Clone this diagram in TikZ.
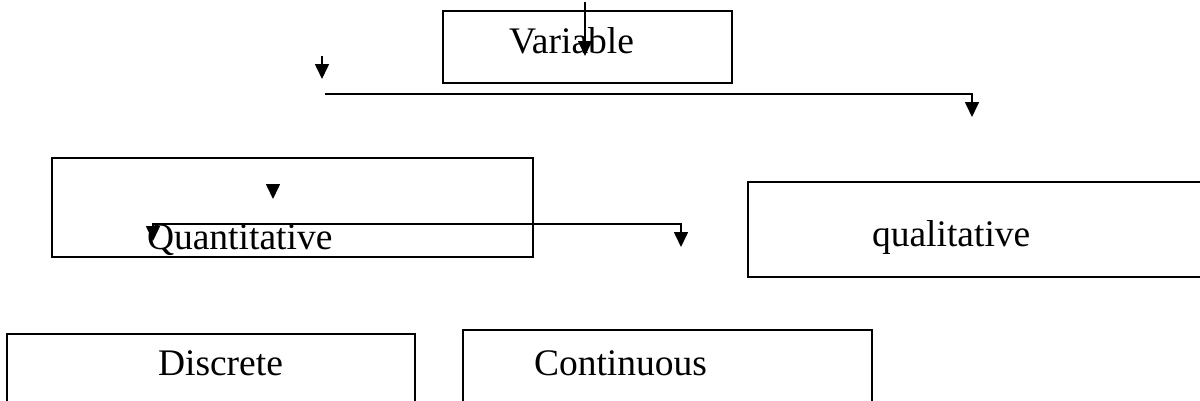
\documentclass[tikz,border=0pt]{standalone}
\usepackage{fontspec}
\setmainfont{Liberation Serif}
\usetikzlibrary{arrows.meta}

\tikzset{
  box/.style={draw=black, line width=1.8pt, rectangle, anchor=north west,
              inner sep=0pt, outer sep=0pt},
  lbl/.style={anchor=base west, inner sep=0pt, outer sep=0pt,
              font=\fontsize{37.5}{45}\selectfont},
  link/.style={line width=1.6pt, draw=black},
  tip/.style={Triangle[width=14pt,length=15pt]},
  arr/.style={link, -{Triangle[width=14pt,length=15pt]}},
  arr2/.style={link, {Triangle[width=14pt,length=15pt]}-{Triangle[width=14pt,length=15pt]}},
}

\begin{document}
\begin{tikzpicture}[x=1pt,y=-1pt]
  \useasboundingbox (0,0) rectangle (1200,400);

  % boxes
  \node[box, minimum width=289pt, minimum height=72pt] (varbox) at (443,11) {};
  \node[box, minimum width=481pt, minimum height=99pt] (quantbox) at (52,158) {};
  \node[box, minimum width=470pt, minimum height=95pt] (qualbox) at (748,182) {};
  \node[box, minimum width=408pt, minimum height=90pt] (discbox) at (7,334) {};
  \node[box, minimum width=409pt, minimum height=94pt] (contbox) at (463,330) {};

  % labels
  \node[lbl] (varlbl)   at (509,53)  {Variable};
  \node[lbl] (quantlbl) at (147,249) {Quantitative};
  \node[lbl] (quallbl)  at (872,246) {qualitative};
  \node[lbl] (disclbl)  at (158,375) {Discrete};
  \node[lbl] (contlbl)  at (534,375) {Continuous};

  % connector end points
  \coordinate (vinA) at (585,2);
  \coordinate (vinB) at (585,56);
  \coordinate (dropA) at (322,56);
  \coordinate (dropB) at (322,79);
  \coordinate (splitL) at (325,94);
  \coordinate (splitR) at (972,94);
  \coordinate (splitT) at (972,117);
  \coordinate (qdropA) at (273,185);
  \coordinate (qdropB) at (273,199);
  \coordinate (qtipL) at (153,241);
  \coordinate (qL) at (153,224);
  \coordinate (qR) at (681,224);
  \coordinate (qtipR) at (681,247);

  % connectors
  \draw[arr] (vinA) -- (vinB);
  \draw[arr] (dropA) -- (dropB);
  \draw[arr] (splitL) -- (splitR) -- (splitT);
  \draw[arr] (qdropA) -- (qdropB);
  \draw[arr2] (qtipL) -- (qL) -- (qR) -- (qtipR);
\end{tikzpicture}
\end{document}
